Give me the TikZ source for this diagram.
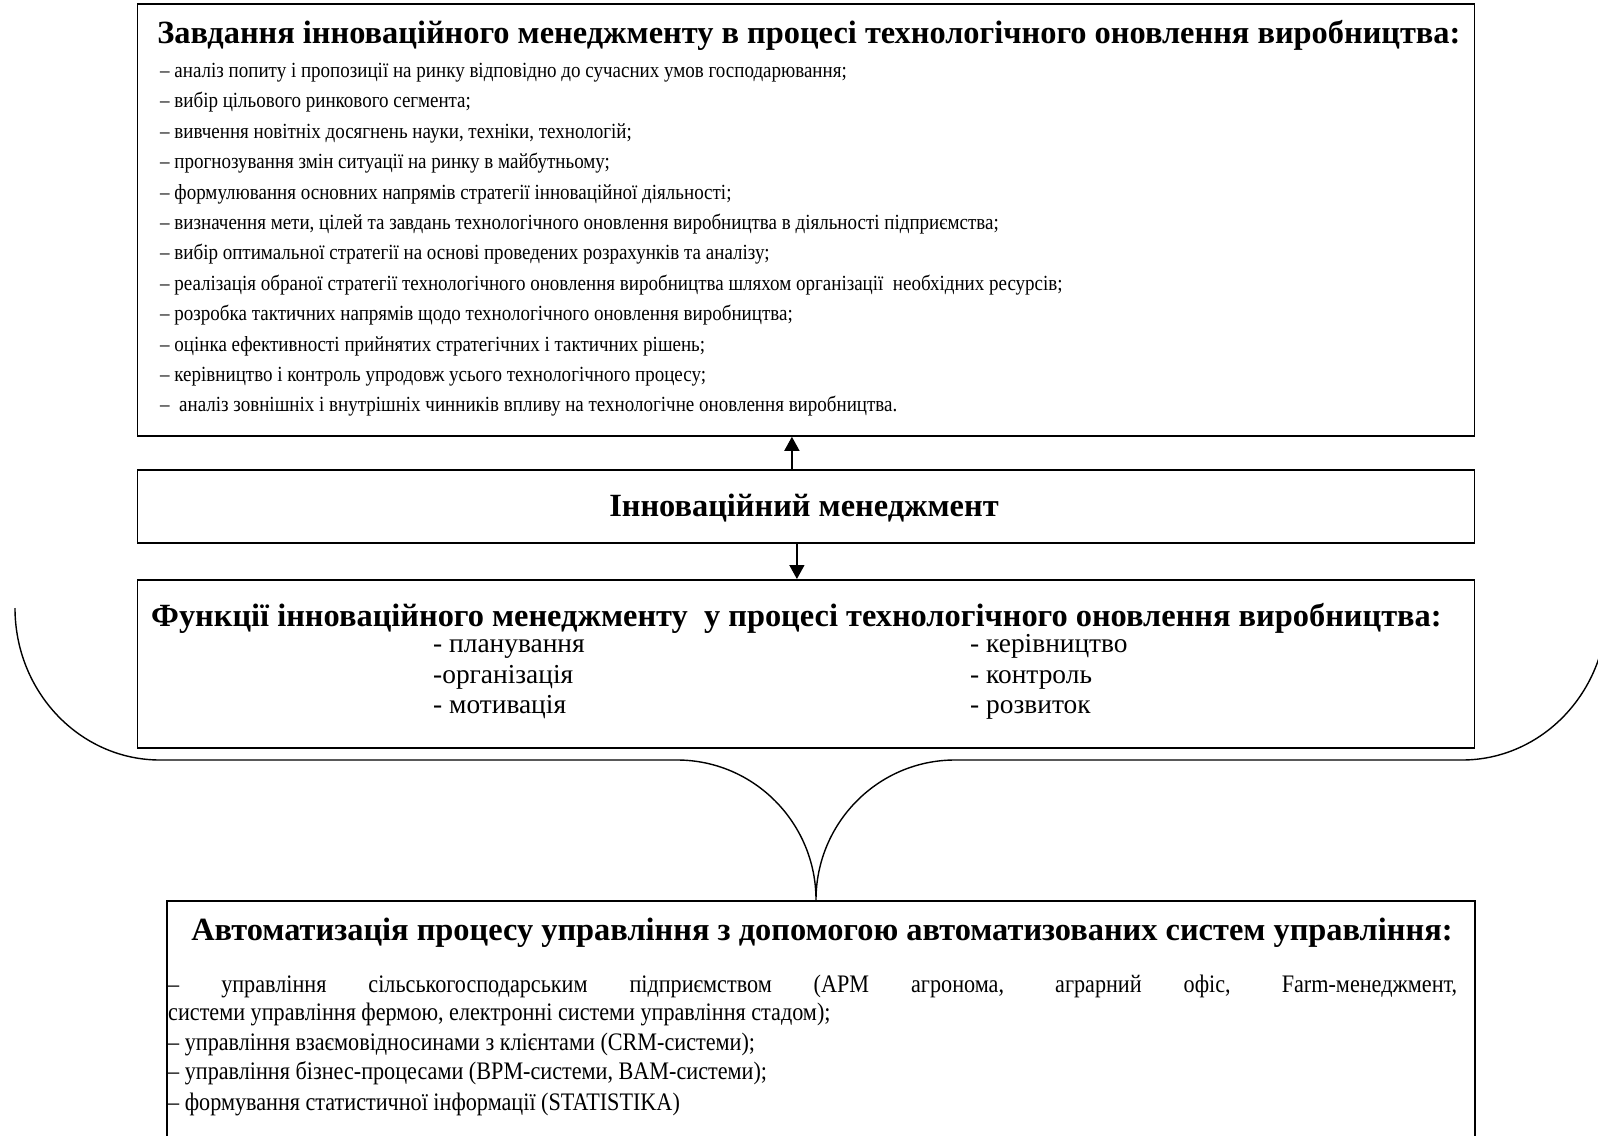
\documentclass[tikz,border=0pt]{standalone}
\usepackage{fontspec}
\setmainfont{Liberation Serif}
\newfontfamily\condfont[FakeStretch=0.88]{Liberation Serif}
\usetikzlibrary{arrows.meta}
\newcommand\fsz[2]{\fontsize{#1}{#2}\selectfont}
\begin{document}
\begin{tikzpicture}[x=1pt,y=-1pt,
  box/.style={draw, line width=1.8pt, inner sep=0pt, anchor=north west},
  arr/.style={line width=1.5pt, -{Triangle[length=14pt,width=15pt]}},
  brace/.style={line width=1.4pt},
  ttl/.style={font=\fsz{32.4}{36}\bfseries, anchor=base, inner sep=0pt},
  lst/.style={font=\condfont\fsz{21.6}{24}, anchor=base west, inner sep=0pt},
  fitem/.style={font=\fsz{27.4}{30}, anchor=base west, inner sep=0pt},
  bitem/.style={font=\condfont\fsz{25.2}{28}, anchor=base west, inner sep=0pt}]
\useasboundingbox (0,0) rectangle (1598,1135);
% boxes
\node[box, minimum width=1337pt, minimum height=432pt] (tbox) at (136.5,3) {};
\node[box, minimum width=1337pt, minimum height=73pt] (mbox) at (136.5,469) {};
\node[box, minimum width=1337pt, minimum height=168pt] (fbox) at (136.5,579) {};
\node[box, minimum width=1308pt, minimum height=250pt] (bbox) at (166,900) {};
% arrows
\draw[arr] ([xshift=-14pt]mbox.north) -- ([xshift=-14pt]mbox.north |- tbox.south);
\draw[arr] ([xshift=-9pt]mbox.south) -- ([xshift=-9pt]mbox.south |- fbox.north);
% brace
\coordinate (bl) at (15,608);
\coordinate (br) at (1607,608);
\coordinate (cusp) at (816,900);
\draw[brace] (bl) .. controls (15,692) and (80,760) .. (160,760) -- (677,760)
  .. controls (754,760) and (816,823) .. (cusp)
  .. controls (816,823) and (878,760) .. (955,760) -- (1462,760)
  .. controls (1542,760) and (1607,692) .. (br);
% top box text
\node[ttl] (ttitle) at (809,43.5) {Завдання інноваційного менеджменту в процесі технологічного оновлення виробництва:};
\foreach \s [count=\i from 0] in {
 {– аналіз попиту і пропозиції на ринку відповідно до сучасних умов господарювання;},
 {– вибір цільового ринкового сегмента;},
 {– вивчення новітніх досягнень науки, техніки, технологій;},
 {– прогнозування змін ситуації на ринку в майбутньому;},
 {– формулювання основних напрямів стратегії інноваційної діяльності;},
 {– визначення мети, цілей та завдань технологічного оновлення виробництва в діяльності підприємства;},
 {– вибір оптимальної стратегії на основі проведених розрахунків та аналізу;},
 {– реалізація обраної стратегії технологічного оновлення виробництва шляхом організації~ необхідних ресурсів;},
 {– розробка тактичних напрямів щодо технологічного оновлення виробництва;},
 {– оцінка ефективності прийнятих стратегічних і тактичних рішень;},
 {– керівництво і контроль упродовж усього технологічного процесу;},
 {– ~аналіз зовнішніх і внутрішніх чинників впливу на технологічне оновлення виробництва.}}
 \node[lst] (task\i) at (160,{77.5+30.4*\i}) {\s};
% middle
\node[ttl] (mtitle) at (804,516) {Інноваційний менеджмент};
% functions
\node[ttl] (ftitle) at (796.5,626) {Функції інноваційного менеджменту~ у процесі технологічного оновлення виробництва:};
\node[fitem] (f1) at (433,652.5) {- планування};
\node[fitem] (f2) at (433,683) {-організація};
\node[fitem] (f3) at (433,713.5) {- мотивація};
\node[fitem] (f4) at (970,652.5) {- керівництво};
\node[fitem] (f5) at (970,683) {- контроль};
\node[fitem] (f6) at (970,713.5) {- розвиток};
% bottom
\node[ttl] (btitle) at (822,940.5) {Автоматизація процесу управління з допомогою автоматизованих систем управління:};
\node[bitem] (b1) at (168,992) {\makebox[1289pt][s]{– управління сільськогосподарським підприємством (АРМ агронома, аграрний офіс, Farm-менеджмент,}};
\node[bitem] (b2) at (168,1020.5) {системи управління фермою, електронні системи управління стадом);};
\node[bitem] (b3) at (168,1050) {– управління взаємовідносинами з клієнтами (CRM-системи);};
\node[bitem] (b4) at (168,1079.5) {– управління бізнес-процесами (BPM-системи, BAM-системи);};
\node[bitem] (b5) at (168,1110) {– формування статистичної інформації (STATISTIKA)};
\end{tikzpicture}
\end{document}
